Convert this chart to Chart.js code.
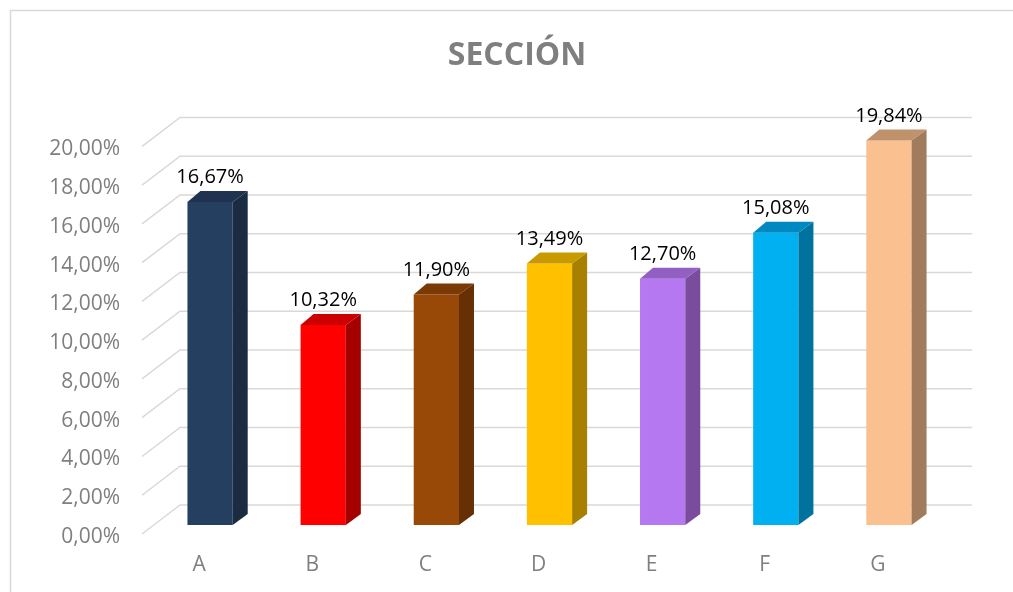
<!DOCTYPE html>
<html>
<head>
<meta charset="utf-8">
<script src="https://cdn.jsdelivr.net/npm/chart.js@4/dist/chart.umd.min.js"></script>
<style>
  body { margin: 0; background: #fff; }
  canvas { display: block; }
</style>
</head>
<body>
<canvas id="chart" width="1013" height="592"></canvas>
<script>
// data
const categories = ['A', 'B', 'C', 'D', 'E', 'F', 'G'];
const values = [16.67, 10.32, 11.90, 13.49, 12.70, 15.08, 19.84];
const frontColors = ['#243f60', '#ff0000', '#984807', '#ffc000', '#b578f0', '#00b0f0', '#fac090'];
const sideColors = ['#1a2b42', '#a50000', '#663004', '#a88000', '#7a4c9e', '#00729e', '#a07c5c'];
const topColors = ['#1f3350', '#cc0000', '#7a3905', '#c89a00', '#9160c2', '#0088c0', '#c0926c'];
const yMin = 0, yMax = 20, yStep = 2;
const titleText = 'SECCIÓN';

// 3D projection offsets (px) relative to the bar front plane
const depth = { barDx: 15, barDy: -11, wallDx: 26.5, wallDy: -20, frontDx: -11.5, frontDy: 9 };

function pct(v) {
	return v.toFixed(2).replace('.', ',') + '%';
}

// white background + the light frame of the chart object
const framePlugin = {
	id: 'frame',
	beforeDraw(chart) {
		const c = chart.ctx;
		c.save();
		c.fillStyle = '#fff';
		c.fillRect(0, 0, chart.width, chart.height);
		c.strokeStyle = '#d9d9d9';
		c.lineWidth = 1.5;
		c.beginPath();
		c.moveTo(10.5, chart.height + 5);
		c.lineTo(10.5, 10.5);
		c.lineTo(chart.width + 5, 10.5);
		c.stroke();
		c.restore();
	}
};

// gridlines on the back wall and the side wall
const wallGrid = {
	id: 'wallGrid',
	beforeDatasetsDraw(chart) {
		const c = chart.ctx;
		const y = chart.scales.y;
		const area = chart.chartArea;
		c.save();
		c.strokeStyle = '#d9d9d9';
		c.lineWidth = 1.5;
		y.ticks.forEach(t => {
			const py = y.getPixelForValue(t.value);
			c.beginPath();
			c.moveTo(area.left + depth.frontDx, py + depth.frontDy);
			c.lineTo(area.left + depth.wallDx, py + depth.wallDy);
			c.lineTo(area.right + depth.wallDx, py + depth.wallDy);
			c.stroke();
		});
		c.restore();
	}
};

// side and top faces of each bar, then the value labels
const bars3d = {
	id: 'bars3d',
	afterDatasetsDraw(chart) {
		const c = chart.ctx;
		const meta = chart.getDatasetMeta(0);
		c.save();
		meta.data.forEach((bar, i) => {
			const p = bar.getProps(['x', 'y', 'base', 'width']);
			const l = p.x - p.width / 2, r = p.x + p.width / 2;
			// side
			c.fillStyle = sideColors[i];
			c.beginPath();
			c.moveTo(r, p.y);
			c.lineTo(r + depth.barDx, p.y + depth.barDy);
			c.lineTo(r + depth.barDx, p.base + depth.barDy);
			c.lineTo(r, p.base);
			c.closePath();
			c.fill();
			// top
			c.fillStyle = topColors[i];
			c.beginPath();
			c.moveTo(l, p.y);
			c.lineTo(l + depth.barDx - 2, p.y + depth.barDy);
			c.lineTo(r + depth.barDx, p.y + depth.barDy);
			c.lineTo(r, p.y);
			c.closePath();
			c.fill();
			// label
			c.fillStyle = '#000';
			c.font = '20px "Open Sans"';
			c.textAlign = 'center';
			c.textBaseline = 'alphabetic';
			c.fillText(pct(values[i]), p.x, p.y - 18.5);
		});
		c.restore();
	}
};

new Chart(document.getElementById('chart').getContext('2d'), {
	type: 'bar',
	data: {
		labels: categories,
		datasets: [{
			data: values,
			backgroundColor: frontColors,
			borderWidth: 0,
			categoryPercentage: 1,
			barPercentage: 0.4
		}]
	},
	options: {
		responsive: false,
		animation: false,
		layout: { padding: { left: 40, right: 19, top: 0, bottom: 0 } },
		plugins: {
			legend: { display: false },
			tooltip: { enabled: false },
			title: {
				display: true,
				text: titleText,
				color: '#7f7f7f',
				font: { family: 'Open Sans', size: 32, weight: 'bold' },
				padding: { top: 37, bottom: 62 }
			}
		},
		scales: {
			x: {
				grid: { display: false, drawTicks: false },
				border: { display: false },
				ticks: {
					color: '#7f7f7f',
					font: { family: 'Open Sans', size: 21 },
					padding: 27,
					labelOffset: -11
				},
				afterFit(scale) { scale.height = 67; }
			},
			y: {
				min: yMin,
				max: yMax,
				grid: { display: false, drawTicks: false },
				border: { display: false },
				ticks: {
					stepSize: yStep,
					color: '#7f7f7f',
					font: { family: 'Open Sans', size: 21 },
					padding: 33.5,
					labelOffset: 12,
					callback: v => pct(v)
				},
				afterFit(scale) { scale.width = 113.5; }
			},
			// empty axis that only keeps the space right of the back wall
			yRight: {
				position: 'right',
				grid: { display: false, drawTicks: false },
				border: { display: false },
				ticks: { display: false },
				afterFit(scale) { scale.width = 48.5; }
			}
		}
	},
	plugins: [framePlugin, wallGrid, bars3d]
});
</script>
</body>
</html>
